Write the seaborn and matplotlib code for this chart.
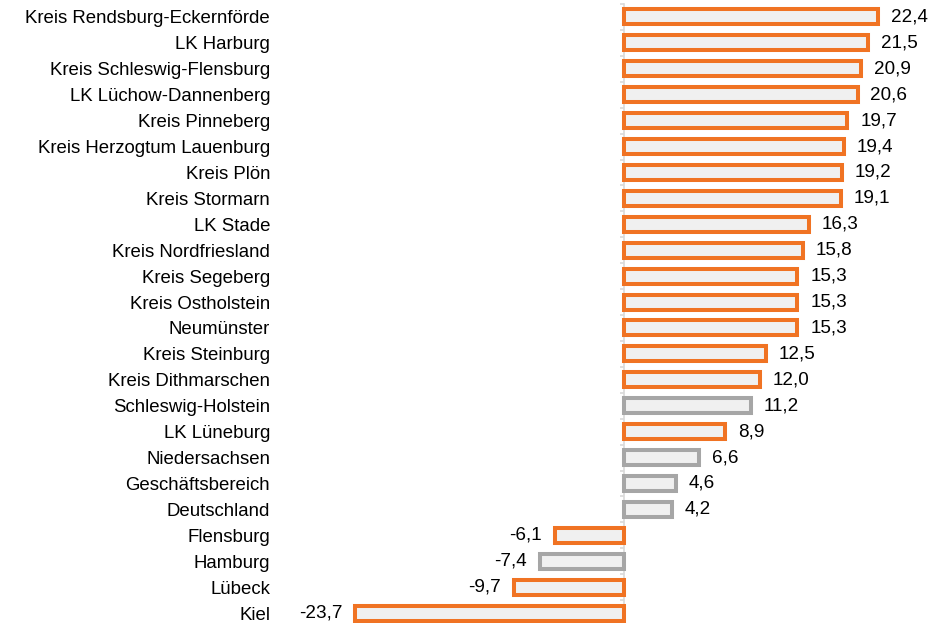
import matplotlib
matplotlib.use("Agg")
import matplotlib.pyplot as plt
import seaborn as sns
import pandas as pd

regions = [
    "Kreis Rendsburg-Eckernförde", "LK Harburg", "Kreis Schleswig-Flensburg",
    "LK Lüchow-Dannenberg", "Kreis Pinneberg", "Kreis Herzogtum Lauenburg",
    "Kreis Plön", "Kreis Stormarn", "LK Stade", "Kreis Nordfriesland",
    "Kreis Segeberg", "Kreis Ostholstein", "Neumünster", "Kreis Steinburg",
    "Kreis Dithmarschen", "Schleswig-Holstein", "LK Lüneburg", "Niedersachsen",
    "Geschäftsbereich", "Deutschland", "Flensburg", "Hamburg", "Lübeck", "Kiel",
]
values = [
    22.4, 21.5, 20.9, 20.6, 19.7, 19.4, 19.2, 19.1, 16.3, 15.8,
    15.3, 15.3, 15.3, 12.5, 12.0, 11.2, 8.9, 6.6, 4.6, 4.2,
    -6.1, -7.4, -9.7, -23.7,
]
aggregates = ["Schleswig-Holstein", "Niedersachsen", "Geschäftsbereich",
              "Deutschland", "Hamburg"]

ORANGE = "#F07323"
GREY = "#A6A6A6"
FILL = "#F0F0F0"
LINE = "#D9D9D9"

df = pd.DataFrame({"region": regions, "value": values})
df["edge"] = [GREY if r in aggregates else ORANGE for r in regions]

sns.set_theme(style="white")
plt.rcParams["font.family"] = ["Liberation Sans", "DejaVu Sans"]

W, H = 946, 623
fig = plt.figure(figsize=(W / 100, H / 100), dpi=100)
# axes placed in pixel terms: left 280, right 940, top 4, bottom 626
ax = fig.add_axes([280 / W, (H - 626) / H, 660 / W, 622 / H])

sns.barplot(data=df, y="region", x="value", orient="h", color=FILL,
            width=0.58, saturation=1, ax=ax)
for patch, ec in zip(ax.patches, df["edge"]):
    patch.set_edgecolor(ec)
    patch.set_linewidth(2.9)
    patch.set_facecolor(FILL)

xmin, xmax = -30.33, 27.87
ax.set_xlim(xmin, xmax)
ax.set_ylim(len(regions) - 0.5, -0.5)

labels = [f"{v:.1f}".replace(".", ",") for v in values]
ax.bar_label(ax.containers[0], labels=labels, padding=9.3, fontsize=13.6,
             color="#000000")

for s in ax.spines.values():
    s.set_visible(False)
ax.set_xticks([])
ax.set_xlabel("")
ax.set_ylabel("")
ax.tick_params(axis="y", length=0, pad=7.2, labelsize=13.4,
               labelcolor="#000000")

# zero line with small ticks at category boundaries
zero = ax.secondary_yaxis(-xmin / (xmax - xmin))
zero.set_alignment("left")
zero.set_yticks([i + 0.5 for i in range(-1, len(regions))])
zero.set_yticklabels([])
for s in zero.spines.values():
    s.set_color(LINE)
    s.set_linewidth(1.2)
zero.tick_params(axis="y", length=3, width=1.2, color=LINE)
ax.set_zorder(1)
ax.patch.set_visible(False)

fig.savefig("out.png", dpi=100, facecolor="white")
